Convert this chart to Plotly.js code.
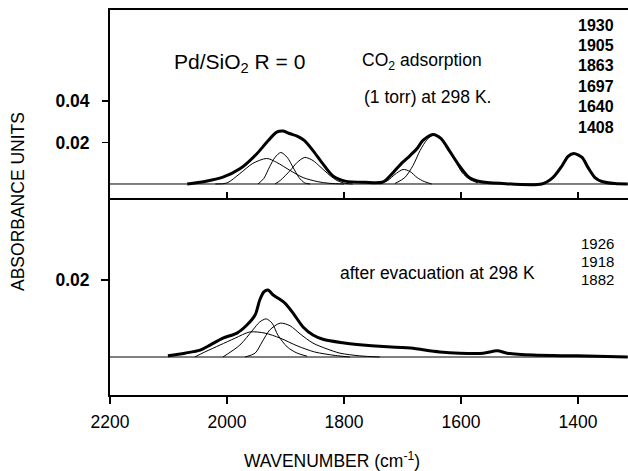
<!DOCTYPE html>
<html>
<head>
<meta charset="utf-8">
<script src="https://cdn.plot.ly/plotly-3.0.1.min.js"></script>
<style>html,body{margin:0;padding:0;background:#fff;}#chart{width:628px;height:471px;}</style>
</head>
<body>
<div id="chart"></div>
<script>
// ---------- Top panel: CO2 adsorption (1 torr) at 298 K ----------
const adsEnvW = [2068, 2038, 2007, 1978, 1949, 1932, 1915, 1904, 1892, 1880, 1868, 1853, 1836, 1819, 1798, 1764, 1733, 1716, 1700, 1687, 1675, 1665, 1648, 1634, 1620, 1603, 1586, 1568, 1533, 1462, 1443, 1427, 1417, 1407, 1393, 1383, 1371, 1359, 1337, 1315];
const adsEnvA = [0, 0.0012, 0.0033, 0.0073, 0.0146, 0.0201, 0.0250, 0.0255, 0.0242, 0.0231, 0.0210, 0.0161, 0.0097, 0.0039, 0.0014, 0.0008, 0.0010, 0.0055, 0.0104, 0.0137, 0.0171, 0.0210, 0.0239, 0.0219, 0.0161, 0.0089, 0.0031, 0.0012, 0.0003, 0, 0.0031, 0.0089, 0.0133, 0.0147, 0.0128, 0.0080, 0.0031, 0.0012, 0.0002, 0];

const ads1930W = [2020, 2000, 1978, 1956, 1932, 1915, 1892, 1870, 1846, 1824, 1800];
const ads1930A = [0, 0.0005, 0.0050, 0.0099, 0.0123, 0.0104, 0.0065, 0.0031, 0.0012, 0.0003, 0];
const ads1905W = [1947, 1937, 1927, 1918, 1908, 1897, 1887, 1877, 1867, 1858];
const ads1905A = [0, 0.0027, 0.0084, 0.0128, 0.0152, 0.0128, 0.0080, 0.0031, 0.0005, 0];
const ads1863W = [1918, 1909, 1892, 1880, 1867, 1853, 1841, 1824, 1812, 1798, 1785];
const ads1863A = [0, 0.0017, 0.0065, 0.0104, 0.0128, 0.0113, 0.0084, 0.0041, 0.0017, 0.0003, 0];
const ads1697W = [1739, 1725, 1713, 1699, 1687, 1675, 1663, 1650];
const ads1697A = [0, 0.0017, 0.0046, 0.0070, 0.0060, 0.0031, 0.0012, 0];
const ads1640W = [1713, 1696, 1682, 1670, 1658, 1648, 1636, 1622, 1610, 1598, 1585, 1571];
const ads1640A = [0.0002, 0.0031, 0.0089, 0.0161, 0.0214, 0.0234, 0.0224, 0.0176, 0.0113, 0.0055, 0.0022, 0.0005];

// ---------- Bottom panel: after evacuation at 298 K ----------
const evEnvW = [2101, 2072, 2046, 2029, 2007, 1983, 1966, 1952, 1944, 1937, 1930, 1921, 1913, 1901, 1887, 1870, 1853, 1836, 1802, 1773, 1733, 1682, 1662, 1636, 1602, 1562, 1538, 1521, 1477, 1402, 1315];
const evEnvA = [0.0003, 0.0010, 0.0018, 0.0031, 0.0049, 0.0062, 0.0083, 0.0109, 0.0148, 0.0169, 0.0174, 0.0161, 0.0153, 0.0140, 0.0114, 0.0078, 0.0057, 0.0046, 0.0037, 0.0032, 0.0027, 0.0023, 0.0018, 0.0013, 0.0010, 0.0010, 0.0016, 0.0010, 0.0005, 0.0003, 0];

const evBroadW = [2055, 2038, 2012, 1986, 1961, 1935, 1909, 1880, 1850, 1815, 1790];
const evBroadA = [0, 0.0013, 0.0031, 0.0049, 0.0065, 0.0062, 0.0049, 0.0029, 0.0013, 0.0004, 0];
const ev1926W = [2007, 1978, 1956, 1944, 1933, 1923, 1913, 1897, 1880, 1863];
const ev1926A = [0, 0.0031, 0.0070, 0.0091, 0.0099, 0.0088, 0.0057, 0.0026, 0.0010, 0.0002];
const ev1882W = [1969, 1952, 1940, 1927, 1909, 1892, 1875, 1853, 1829, 1807, 1773, 1739];
const ev1882A = [0, 0.0010, 0.0039, 0.0070, 0.0088, 0.0081, 0.0060, 0.0036, 0.0021, 0.0010, 0.0003, 0];

const baseW = [2200, 1315];
const baseA = [0, 0];

// ---------- Text ----------
const xTicks = [2200, 2000, 1800, 1600, 1400];
const topYTicks = [0.02, 0.04];
const botYTicks = [0.02];
const adsPeakLabels = ['1930', '1905', '1863', '1697', '1640', '1408'];
const evPeakLabels = ['1926', '1918', '1882'];

const FONT = 'Arial, "Liberation Sans", Helvetica, sans-serif';
const thin = {color: '#000', width: 1, shape: 'spline', smoothing: 0.8};
const thick = {color: '#000', width: 3, shape: 'spline', smoothing: 0.8};

function tr(x, y, line, xa, ya) {
  return {x: x, y: y, type: 'scatter', mode: 'lines', line: line, xaxis: xa, yaxis: ya, hoverinfo: 'skip', showlegend: false};
}

const data = [
  tr(baseW, baseA, {color: '#000', width: 1}, 'x2', 'y2'),
  tr(ads1930W, ads1930A, thin, 'x2', 'y2'),
  tr(ads1905W, ads1905A, thin, 'x2', 'y2'),
  tr(ads1863W, ads1863A, thin, 'x2', 'y2'),
  tr(ads1697W, ads1697A, thin, 'x2', 'y2'),
  tr(ads1640W, ads1640A, thin, 'x2', 'y2'),
  tr(adsEnvW, adsEnvA, thick, 'x2', 'y2'),
  tr(baseW, baseA, {color: '#000', width: 1}, 'x', 'y'),
  tr(evBroadW, evBroadA, thin, 'x', 'y'),
  tr(ev1926W, ev1926A, thin, 'x', 'y'),
  tr(ev1882W, ev1882A, thin, 'x', 'y'),
  tr(evEnvW, evEnvA, thick, 'x', 'y')
];

const X_RANGE = [2200, 1314.5];
const TOP_RANGE = [-0.00675, 0.08386];
const BOT_RANGE = [-0.00987, 0.0413];
const split = 197 / 385;

const annotations = [];
function ann(text, x, y, size, opts) {
  annotations.push(Object.assign({text: text, xref: 'paper', yref: 'paper', x: x, y: y, showarrow: false,
    font: {family: FONT, size: size, color: '#000'}, xanchor: 'center', yanchor: 'middle'}, opts || {}));
}
const px = v => (v - 110) / 518;
const py = v => (395 - v) / 385;

ann('Pd/SiO<sub>2</sub> R = 0', px(239), py(63), 21);
ann('CO<sub>2</sub> adsorption', px(360), py(61), 17.5, {xanchor: 'left'});
ann('(1 torr) at 298 K.', px(362), py(97), 17.5, {xanchor: 'left'});
adsPeakLabels.forEach((t, i) => ann('<b>' + t + '</b>', px(616), py(25 + i * 20.4), 16, {xanchor: 'right'}));
ann('after evacuation at 298 K', px(338), py(273), 17.5, {xanchor: 'left'});
evPeakLabels.forEach((t, i) => ann(t, px(616), py(243 + i * 18), 15, {xanchor: 'right'}));
ann('ABSORBANCE UNITS', px(18), py(202), 17.5, {textangle: -90});
ann('WAVENUMBER (cm<sup>-1</sup>)', px(332), py(460), 17.5);

const layout = {
  width: 628, height: 471,
  margin: {l: 110, r: 0, t: 10, b: 76, pad: 0},
  paper_bgcolor: '#fff', plot_bgcolor: '#fff',
  font: {family: FONT, color: '#000'},
  showlegend: false,
  xaxis: {domain: [0, 1], range: X_RANGE, anchor: 'y', showgrid: false, zeroline: false,
    showline: true, linecolor: '#000', linewidth: 2, ticks: 'outside', ticklen: 7, tickwidth: 2, tickcolor: '#000',
    tickvals: xTicks, ticktext: xTicks.map(String), tickfont: {family: FONT, size: 17.5, color: '#000'}, ticklabelstandoff: 3},
  yaxis: {domain: [0, split], range: BOT_RANGE, anchor: 'x', showgrid: false, zeroline: false,
    showline: true, linecolor: '#000', linewidth: 2, ticks: 'outside', ticklen: 7, tickwidth: 1.5, tickcolor: '#000',
    tickvals: botYTicks, ticktext: botYTicks.map(String), tickfont: {family: FONT, size: 17.5, color: '#000', weight: 'bold'}, ticklabelstandoff: 8},
  yaxis3: {overlaying: 'y', range: BOT_RANGE, anchor: 'x', showgrid: false, zeroline: false, showline: false,
    ticks: 'inside', ticklen: 6, tickwidth: 1.5, tickcolor: '#000', tickvals: botYTicks, showticklabels: false},
  xaxis2: {domain: [0, 1], range: X_RANGE, anchor: 'y2', showgrid: false, zeroline: false,
    showline: true, mirror: true, linecolor: '#000', linewidth: 2, ticks: 'inside', ticklen: 6, tickwidth: 2, tickcolor: '#000',
    tickvals: [2000, 1800, 1600, 1400], showticklabels: false},
  yaxis2: {domain: [split, 1], range: TOP_RANGE, anchor: 'x2', showgrid: false, zeroline: false,
    showline: true, linecolor: '#000', linewidth: 2, ticks: 'outside', ticklen: 6, tickwidth: 1.5, tickcolor: '#000',
    tickvals: topYTicks, ticktext: topYTicks.map(String), tickfont: {family: FONT, size: 17.5, color: '#000', weight: 'bold'}, ticklabelstandoff: 9},
  yaxis4: {overlaying: 'y2', range: TOP_RANGE, anchor: 'x2', showgrid: false, zeroline: false, showline: false,
    ticks: 'inside', ticklen: 5, tickwidth: 1.5, tickcolor: '#000', tickvals: topYTicks, showticklabels: false},
  yaxis5: {overlaying: 'y2', range: TOP_RANGE, anchor: 'x2', showgrid: false, zeroline: false, showline: false,
    ticks: 'outside', ticklen: 12, tickwidth: 1, tickcolor: '#555', tickvals: [0], showticklabels: false},
  annotations: annotations
};

Plotly.newPlot('chart', data, layout, {staticPlot: true, displayModeBar: false});
</script>
</body>
</html>
